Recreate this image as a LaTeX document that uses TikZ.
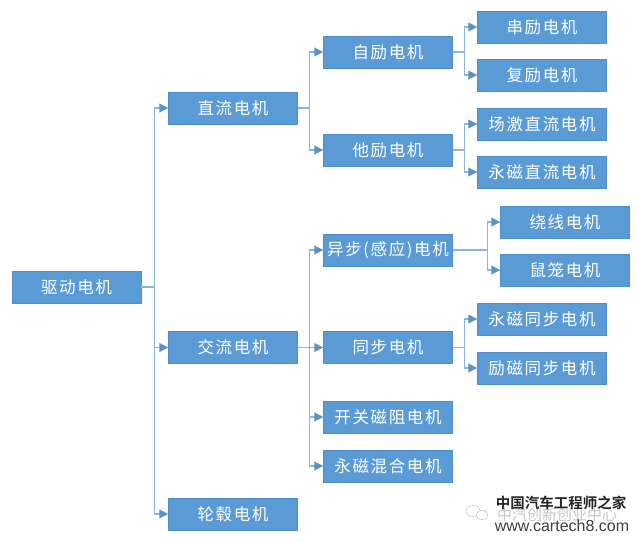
\documentclass[tikz,border=0pt]{standalone}
\usepackage{fontspec}
\usetikzlibrary{arrows.meta,calc}
\setmainfont{Liberation Sans}
\newfontfamily\cjk[LetterSpace=10]{Noto Sans CJK SC}
\newfontfamily\cjkplain{Noto Sans CJK SC}
\newfontfamily\cjkbold[BoldFont={Noto Sans CJK SC Bold}]{Noto Sans CJK SC}
\definecolor{boxblue}{HTML}{5B9BD5}
\definecolor{boxedge}{HTML}{4F8FCC}
\definecolor{linkblue}{HTML}{8DB4DA}
\definecolor{tipblue}{HTML}{5B93C8}
\tikzset{
  motor/.style={rectangle,fill=boxblue,draw=boxedge,line width=0.5pt,minimum width=129pt,minimum height=32pt,inner sep=0pt,text=white,font=\cjk\fontsize{16.5}{16.5}\selectfont},
  link/.style={draw=linkblue,line width=1.1pt,-{Triangle[length=9pt,width=9pt,fill=tipblue,color=tipblue]}},
  stem/.style={draw=linkblue,line width=1.1pt}
}
\begin{document}
\begin{tikzpicture}[x=1pt,y=-1pt]
\useasboundingbox[fill=white] (0,0) rectangle (640,541);
% root and first level
\node[motor] (root) at (76.5,287) {驱动电机};
\node[motor] (dc) at (233,108) {直流电机};
\node[motor] (ac) at (233,347.5) {交流电机};
\node[motor] (hub) at (233,514) {轮毂电机};
% second level
\node[motor] (self) at (388,52) {自励电机};
\node[motor] (sep) at (388,150) {他励电机};
\node[motor] (async) at (388,250) {异步(感应)电机};
\node[motor] (sync) at (388,347.5) {同步电机};
\node[motor] (sr) at (388,417) {开关磁阻电机};
\node[motor] (pmh) at (388,466) {永磁混合电机};
% third level
\node[motor] (series) at (542,27) {串励电机};
\node[motor] (comp) at (542,75) {复励电机};
\node[motor] (field) at (542,124) {场激直流电机};
\node[motor] (pmdc) at (542,172) {永磁直流电机};
\node[motor] (wound) at (565,222) {绕线电机};
\node[motor] (cage) at (565,270) {鼠笼电机};
\node[motor] (pmsync) at (542,319) {永磁同步电机};
\node[motor] (exsync) at (542,368) {励磁同步电机};
% junctions
\coordinate (j0) at ($(root.east)+(13,0)$);
\coordinate (j1) at ($(dc.east)+(12,0)$);
\coordinate (j2) at ($(ac.east)+(12,0)$);
\coordinate (j3) at ($(self.east)+(12,0)$);
\coordinate (j4) at ($(sep.east)+(12,0)$);
\coordinate (j5) at ($(async.east)+(35,0)$);
\coordinate (j6) at ($(sync.east)+(12,0)$);
% connectors
\draw[stem] (root.east) -- (j0);
\foreach \t in {dc,ac,hub} \draw[link] (j0) |- (\t.west);
\draw[stem] (dc.east) -- (j1);
\foreach \t in {self,sep} \draw[link] (j1) |- (\t.west);
\draw[stem] (ac.east) -- (j2);
\foreach \t in {async,sync,sr,pmh} \draw[link] (j2) |- (\t.west);
\draw[stem] (self.east) -- (j3);
\foreach \t in {series,comp} \draw[link] (j3) |- (\t.west);
\draw[stem] (sep.east) -- (j4);
\foreach \t in {field,pmdc} \draw[link] (j4) |- (\t.west);
\draw[stem] (async.east) -- (j5);
\foreach \t in {wound,cage} \draw[link] (j5) |- (\t.west);
\draw[stem] (sync.east) -- (j6);
\foreach \t in {pmsync,exsync} \draw[link] (j6) |- (\t.west);
% watermark
\draw[black!20,line width=0.7pt] (473,511) ellipse [x radius=7,y radius=5.5];
\draw[black!20,line width=0.7pt,fill=white] (482,515) ellipse [x radius=6,y radius=4.5];
\node[inner sep=0pt,text=black!22] (wm2) at (557,515) {\cjkplain\fontsize{15}{15}\selectfont 中汽创新创业中心};
\node[inner sep=0pt,text=black!85] (wm1) at (561,503) {\cjkbold\bfseries\fontsize{14.5}{15}\selectfont 中国汽车工程师之家};
\node[inner sep=0pt,text=black!75] (wm3) at (562,526) {\fontsize{16}{16}\selectfont www.cartech8.com};
\end{tikzpicture}
\end{document}
